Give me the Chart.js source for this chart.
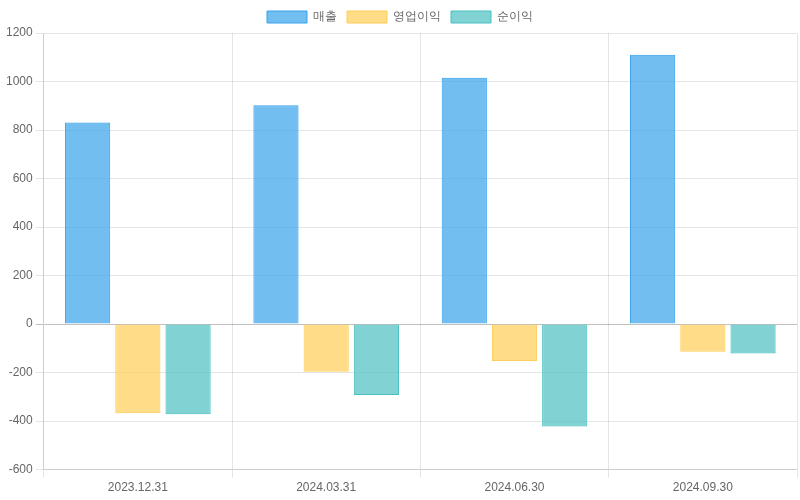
<!DOCTYPE html>
<html>
<head>
    <meta charset="utf-8">
    <title>실적</title>
    <script src="https://cdn.jsdelivr.net/npm/chart.js@4"></script>
    <style>
        html, body { margin: 0; padding: 0; background: #fff; }
        .chart-container { width: 800px; height: 500px; }
    </style>
</head>
<body>
    <div class="chart-container"><canvas id="chart"></canvas></div>
    <script>
        const labels = ['2023.12.31', '2024.03.31', '2024.06.30', '2024.09.30'];
        const revenue = [831, 902, 1016, 1110];
        const operatingProfit = [-368, -197, -152, -114];
        const netProfit = [-372, -292, -422, -121];

        new Chart(document.getElementById('chart'), {
            type: 'bar',
            data: {
                labels: labels,
                datasets: [
                    {
                        label: '매출',
                        data: revenue,
                        backgroundColor: 'rgba(54, 162, 235, 0.7)',
                        borderColor: 'rgba(54, 162, 235, 1)',
                        borderWidth: 1
                    },
                    {
                        label: '영업이익',
                        data: operatingProfit,
                        backgroundColor: 'rgba(255, 205, 86, 0.7)',
                        borderColor: 'rgba(255, 205, 86, 1)',
                        borderWidth: 1
                    },
                    {
                        label: '순이익',
                        data: netProfit,
                        backgroundColor: 'rgba(75, 192, 192, 0.7)',
                        borderColor: 'rgba(75, 192, 192, 1)',
                        borderWidth: 1
                    }
                ]
            },
            options: {
                responsive: true,
                maintainAspectRatio: false,
                animation: false,
                layout: { padding: { top: 1, right: 3, bottom: 2, left: 3 } },
                datasets: {
                    bar: { categoryPercentage: 0.8, barPercentage: 0.9 }
                },
                plugins: {
                    legend: { position: 'top' }
                },
                scales: {
                    y: {
                        min: -600,
                        max: 1200,
                        ticks: {
                            stepSize: 200,
                            callback: (value) => String(value)
                        },
                        grid: {
                            color: (ctx) => ctx.tick && ctx.tick.value === 0
                                ? 'rgba(0, 0, 0, 0.25)' : 'rgba(0, 0, 0, 0.1)'
                        }
                    }
                }
            }
        });
    </script>
</body>
</html>
